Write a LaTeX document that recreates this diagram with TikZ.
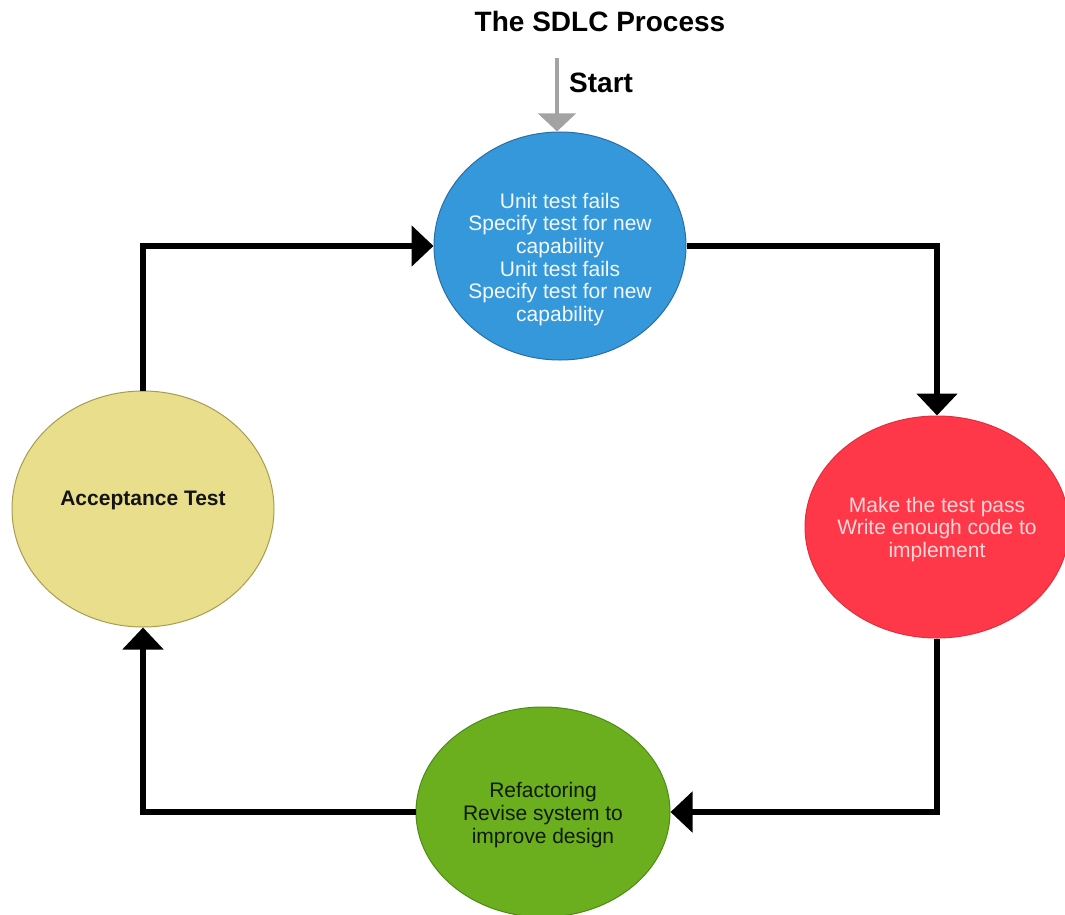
\documentclass[tikz,border=0pt]{standalone}
\usepackage{fontspec}
\setmainfont{Liberation Sans}
\usetikzlibrary{shapes.geometric,arrows.meta}

\definecolor{stepblue}{HTML}{3598DB}
\definecolor{stepblueline}{HTML}{2A6EA6}
\definecolor{stepred}{HTML}{FE3848}
\definecolor{stepredline}{HTML}{E0303E}
\definecolor{stepgreen}{HTML}{6BAF1E}
\definecolor{stepgreenline}{HTML}{4E8A18}
\definecolor{stepyellow}{HTML}{E8DE8B}
\definecolor{stepyellowline}{HTML}{A89C50}
\definecolor{startgray}{HTML}{A3A3A3}

% centred lines of text in a zero-size box, raised by #1
\newcommand{\lines}[2]{\raisebox{#1}[0pt][0pt]{\makebox[0pt]{\begin{tabular}{@{}c@{}}#2\end{tabular}}}}

\tikzset{
  phase/.style={ellipse, draw, line width=1pt, inner sep=0pt,
    font=\fontsize{21}{22.7}\selectfont},
  conn/.style={line width=6pt, -{Triangle[length=22pt,width=40pt]}},
  startarrow/.style={line width=4.5pt, color=startgray,
    -{Triangle[length=18pt,width=37pt]}},
  heading/.style={font=\fontsize{28}{30}\selectfont\bfseries, inner sep=0pt}
}

\begin{document}
\begin{tikzpicture}[x=1pt,y=-1pt]
  \useasboundingbox (0,0) rectangle (1065,915);
  \clip (0,0) rectangle (1065,915);

  % title and entry point
  \node[heading] (title) at (600,21) {The SDLC Process};
  \node[heading, anchor=west] (start) at (569,83) {Start};

  % the four phases
  \node[phase, fill=stepblue, draw=stepblueline, text=white!94!stepblue,
        minimum width=252pt, minimum height=228pt] (test) at (560,246)
    {\lines{-19.5pt}{Unit test fails\\Specify test for new\\capability\\Unit test fails\\Specify test for new\\capability}};
  \node[phase, fill=stepred, draw=stepredline, text=white!80!stepred,
        minimum width=264pt, minimum height=222pt] (code) at (937,527)
    {\lines{-8.5pt}{Make the test pass\\Write enough code to\\implement}};
  \node[phase, fill=stepgreen, draw=stepgreenline, text=black!85!stepgreen,
        minimum width=254pt, minimum height=210pt] (refactor) at (543,812)
    {\lines{-9pt}{Refactoring\\Revise system to\\improve design}};
  \node[phase, fill=stepyellow, draw=stepyellowline, text=black!92,
        minimum width=262pt, minimum height=236pt] (accept) at (143,509)
    {\lines{2.5pt}{\bfseries Acceptance Test}};

  % start arrow into the cycle
  \coordinate (s) at (557,58);
  \draw[startarrow] (s) -- (s |- test.north);

  % cycle connectors
  \draw[conn] (accept.north) |- (test.west);
  \draw[conn] (test.east) -| (code.north);
  \draw[conn] (code.south) |- (refactor.east);
  \draw[conn] (refactor.west) -| (accept.south);
\end{tikzpicture}
\end{document}
